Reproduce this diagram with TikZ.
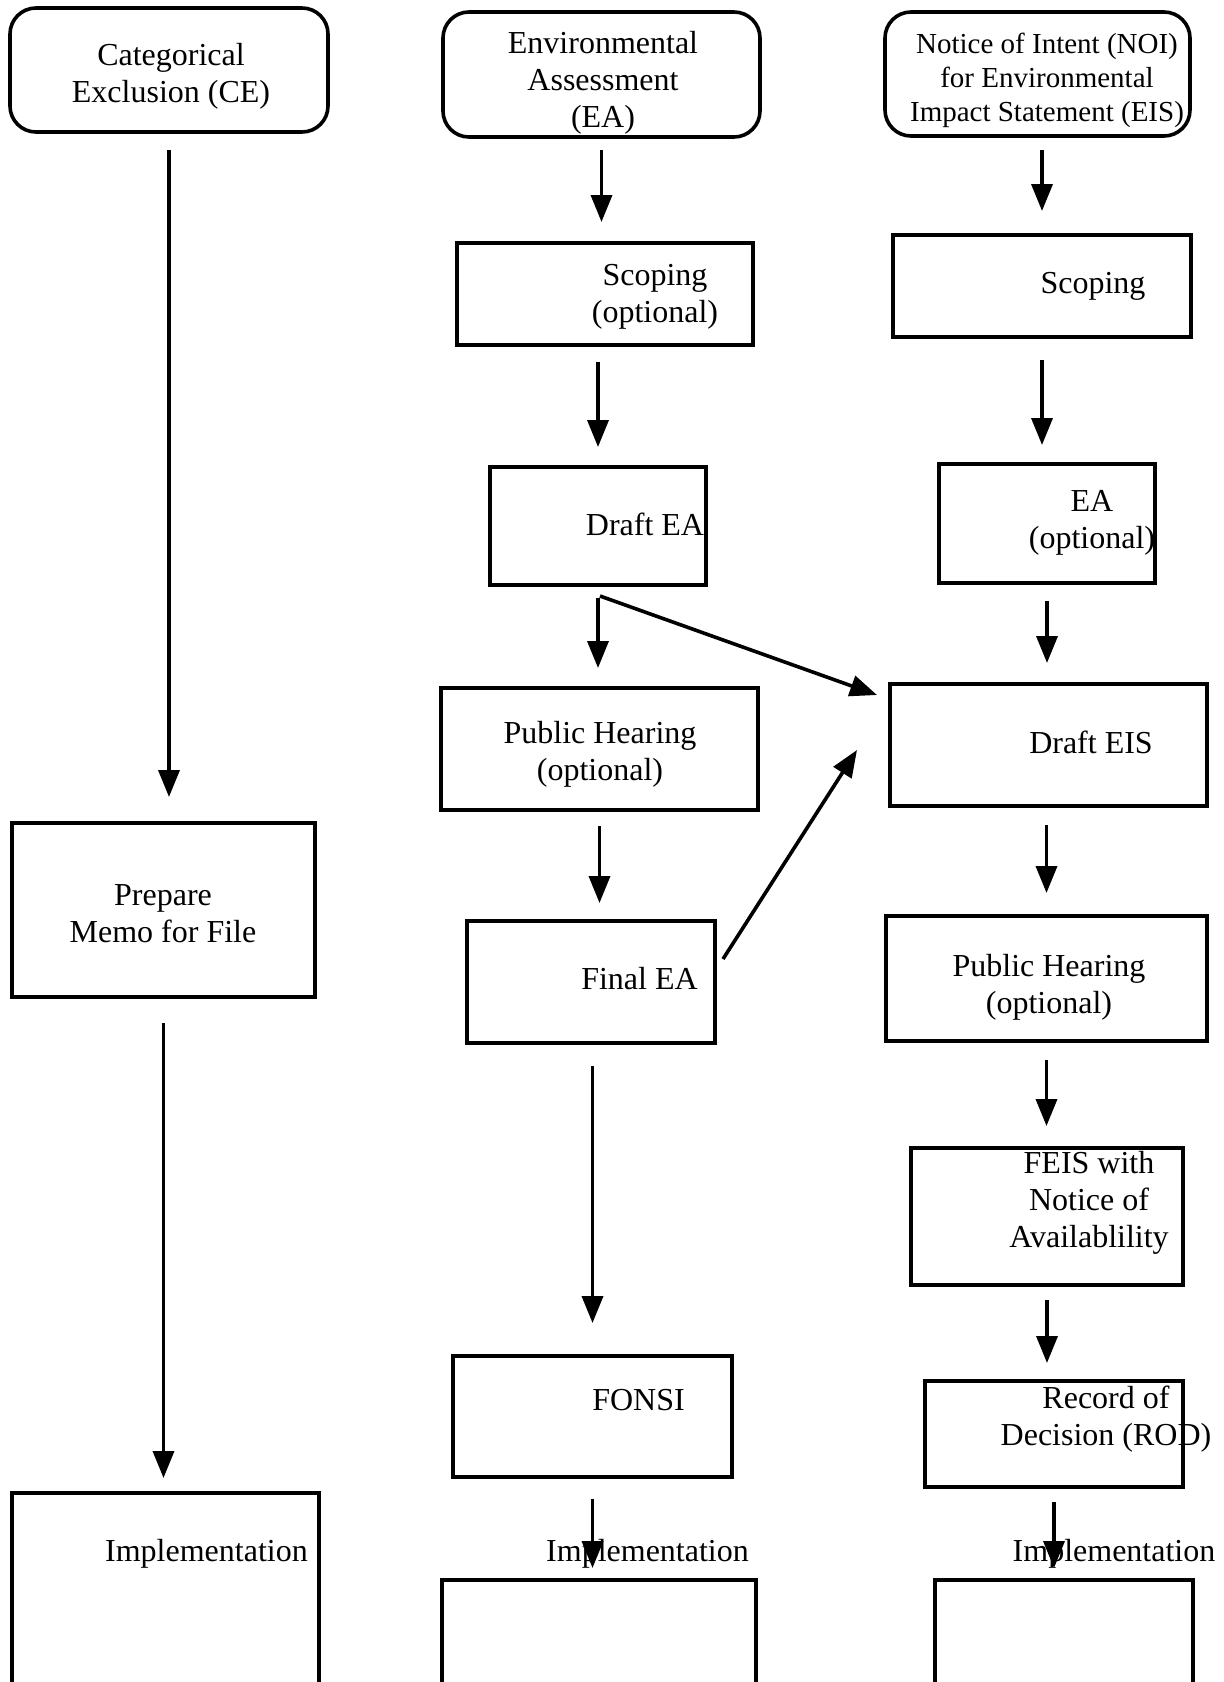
\documentclass[tikz,border=0pt]{standalone}
\usepackage{fontspec}
\setmainfont{Liberation Serif}
\usetikzlibrary{arrows.meta,calc}

\tikzset{
  box/.style={draw, line width=1.8pt, inner sep=0pt, outer sep=0pt},
  startbox/.style={box, rounded corners=13pt},
  txt/.style={align=center, inner sep=0pt, font=\fontsize{16}{18.5}\selectfont},
  arr/.style={line width=1.8pt, -{Triangle[length=13.5pt,width=10.5pt]}}
}

\begin{document}
\begin{tikzpicture}[x=0.5pt,y=-0.5pt]

\useasboundingbox (0,0) rectangle (1223,1682);
\clip (0,0) rectangle (1223,1682);

% Starting boxes
\node[startbox, minimum width=159pt, minimum height=62pt] (ce) at (169,70) {};
\node[startbox, minimum width=158.5pt, minimum height=62.5pt] (ea) at (601.5,74.5) {};
\node[startbox, minimum width=152.5pt, minimum height=62pt] (noi) at (1037.5,74) {};

% Left column
\node[box, minimum width=151.5pt, minimum height=87pt] (memo) at (163.5,910) {};
\node[box, minimum width=153.5pt, minimum height=207pt] (implL) at (165.5,1700) {};

% Middle column
\node[box, minimum width=148pt, minimum height=51pt] (scopea) at (605,294) {};
\node[box, minimum width=108pt, minimum height=59pt] (drafta) at (598,526) {};
\node[box, minimum width=158.5pt, minimum height=61pt] (pha) at (599.5,749) {};
\node[box, minimum width=124pt, minimum height=61pt] (finala) at (591,982) {};
\node[box, minimum width=139.5pt, minimum height=60.5pt] (fonsi) at (592.5,1416.5) {};
\node[box, minimum width=157pt, minimum height=160pt] (implM) at (599,1740) {};

% Right column
\node[box, minimum width=149pt, minimum height=51pt] (scopee) at (1042,286) {};
\node[box, minimum width=108pt, minimum height=59.5pt] (eaopt) at (1047,523.5) {};
\node[box, minimum width=158.5pt, minimum height=61pt] (drafte) at (1048.5,745) {};
\node[box, minimum width=160.5pt, minimum height=62.5pt] (phe) at (1046.5,978.5) {};
\node[box, minimum width=136pt, minimum height=68.5pt] (feis) at (1047,1216.5) {};
\node[box, minimum width=129pt, minimum height=53pt] (rod) at (1054,1434) {};
\node[box, minimum width=129pt, minimum height=160pt] (implR) at (1064,1740) {};

% Texts
\node[txt] (ceText) at (171,76) {Categorical\\Exclusion (CE)};
\node[txt] (eaText) at (603,83) {Environmental\\Assessment\\(EA)};
\node[txt, font=\fontsize{14.5}{17}\selectfont] (noiText) at (1047,80) {Notice of Intent (NOI)\\for Environmental\\Impact Statement (EIS)};
\node[txt] (memoText) at (163,914) {Prepare\\Memo for File};
\node[txt] (implLText) at (206.5,1554) {Implementation};

\node[txt] (scopeaText) at (655,297) {Scoping\\(optional)};
\node[txt] (draftaText) at (645,524) {Draft EA};
\node[txt] (phaText) at (600,754) {Public Hearing\\(optional)};
\node[txt] (finalaText) at (639.5,979) {Final EA};
\node[txt] (fonsiText) at (638.5,1400) {FONSI};
\node[txt] (implMText) at (647.5,1554) {Implementation};

\node[txt] (scopeeText) at (1093,286) {Scoping};
\node[txt] (eaoptText) at (1092,523) {EA\\(optional)};
\node[txt] (drafteText) at (1091,742) {Draft EIS};
\node[txt] (pheText) at (1049,987) {Public Hearing\\(optional)};
\node[txt] (feisText) at (1089,1203) {FEIS with\\Notice of\\Availablility};
\node[txt] (rodText) at (1106,1419) {Record of\\Decision (ROD)};
\node[txt] (implRText) at (1114,1554) {Implementation};

% Arrows, left column
\draw[arr, shorten <=9pt, shorten >=13pt] (ce.south) -- (ce.south |- memo.north);
\draw[arr, shorten <=13pt, shorten >=7.5pt] (memo.south) -- (memo.south |- implL.north);

% Arrows, middle column
\draw[arr, shorten <=6.5pt, shorten >=10.5pt] (ea.south) -- (ea.south |- scopea.north);
\draw[arr, shorten <=8.5pt, shorten >=10pt] (drafta.north |- scopea.south) -- (drafta.north);
\draw[arr, shorten <=6.5pt, shorten >=10pt] (drafta.south) -- (drafta.south |- pha.north);
\draw[arr, shorten <=8pt, shorten >=9pt] (pha.south) -- (pha.south |- finala.north);
\draw[arr, shorten <=11.5pt, shorten >=16.5pt] (fonsi.north |- finala.south) -- (fonsi.north);
\draw[arr, shorten <=11pt, shorten >=6pt] (fonsi.south) -- (fonsi.south |- implM.north);

% Arrows, right column
\draw[arr, shorten <=7pt, shorten >=12pt] (scopee.north |- noi.south) -- (scopee.north);
\draw[arr, shorten <=11.5pt, shorten >=9.5pt] (scopee.south) -- (scopee.south |- eaopt.north);
\draw[arr, shorten <=9pt, shorten >=10.5pt] (eaopt.south) -- (eaopt.south |- drafte.north);
\draw[arr, shorten <=9.5pt, shorten >=11.5pt] (phe.north |- drafte.south) -- (phe.north);
\draw[arr, shorten <=9.5pt, shorten >=11pt] (phe.south) -- (phe.south |- feis.north);
\draw[arr, shorten <=7.5pt, shorten >=9pt] (feis.south) -- (feis.south |- rod.north);
\draw[arr, shorten <=7.5pt, shorten >=6pt] (rod.south) -- (rod.south |- implR.north);

% Cross arrows to Draft EIS
\draw[arr] ($(drafta.south)+(2,11)$) -- ($(drafte.north west)+(-13,11)$);
\draw[arr] ($(finala.east)+(8,-23)$) -- ($(drafte.west)+(-33,5)$);

\end{tikzpicture}
\end{document}
